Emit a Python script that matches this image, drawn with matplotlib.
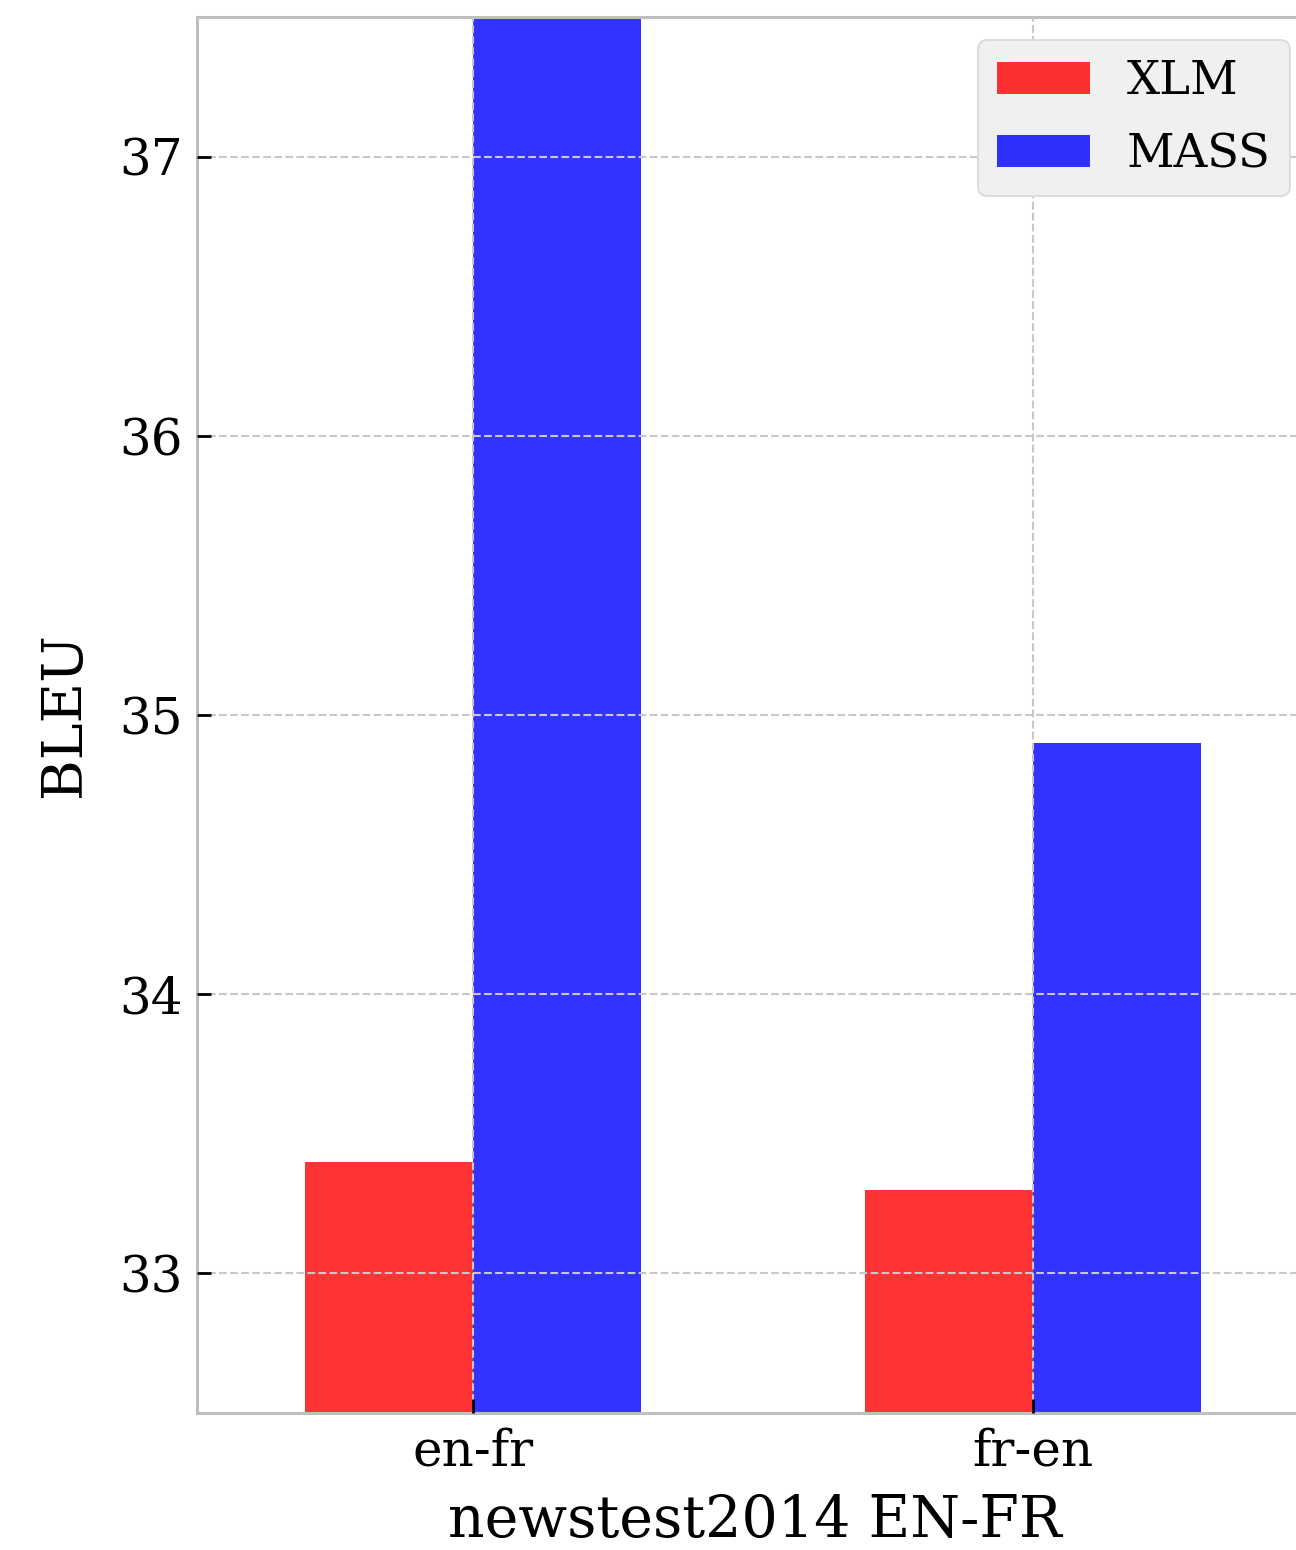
import numpy as np
import matplotlib
matplotlib.use("Agg")
import matplotlib.pyplot as plt

# BLEU on newstest2014 EN-FR
directions = ["en-fr", "fr-en"]
xlm_bleu = [33.4, 33.3]
mass_bleu = [37.5, 34.9]

plt.rcParams["font.family"] = "DejaVu Serif"

fig = plt.figure(figsize=(12.96, 15.5), dpi=100)
ax = fig.add_axes([0.152, 0.0884, 0.861, 0.9006])

x = np.arange(len(directions))
width = 0.3
ax.bar(x - width / 2, xlm_bleu, width, color="red", alpha=0.8, label="XLM")
ax.bar(x + width / 2, mass_bleu, width, color="blue", alpha=0.8, label="MASS")

ax.set_xlim(-0.493, 1.5)
ax.set_ylim(32.5, 37.5)
ax.set_xticks(x)
ax.set_xticklabels(directions)
ax.set_yticks([33, 34, 35, 36, 37])

# grid on top of the bars
ax.set_axisbelow(False)
ax.grid(True, color="#c8c8c8", linestyle="--", linewidth=1.5)

for s in ax.spines.values():
    s.set_color("#bfbfbf")
    s.set_linewidth(2.2)

ax.tick_params(axis="both", direction="in", length=10, width=2, color="black",
               labelsize=36, pad=10)
ax.set_xlabel("newstest2014 EN-FR", fontsize=41, labelpad=12)
ax.set_ylabel("BLEU", fontsize=40, labelpad=20)

leg = ax.legend(loc="upper right", fontsize=33.5, fancybox=True, framealpha=1.0,
                labelspacing=0.6)
leg.get_frame().set_facecolor("#f0f0f0")
leg.get_frame().set_edgecolor("#dddddd")
leg.get_frame().set_linewidth(1.5)

fig.savefig("out.png", dpi=100)
